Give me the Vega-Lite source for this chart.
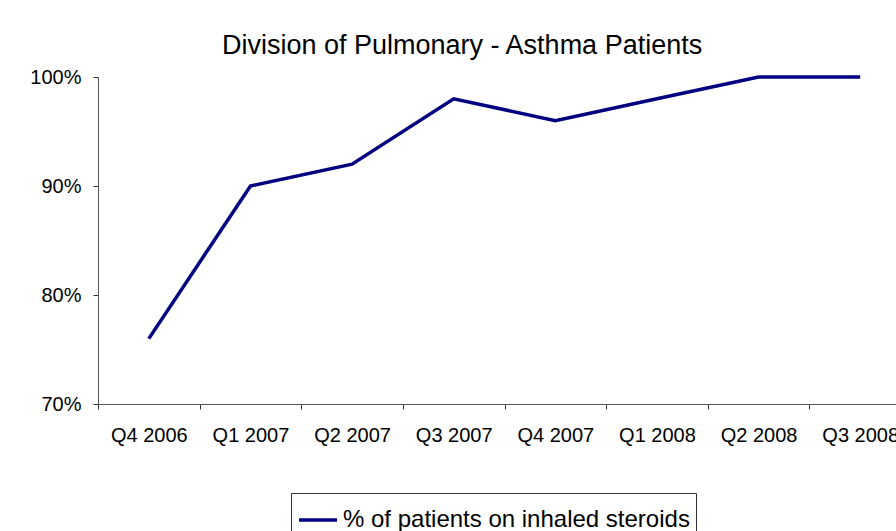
{
  "$schema": "https://vega.github.io/schema/vega-lite/v6.json",
  "width": 798,
  "height": 327,
  "autosize": {"type": "none"},
  "padding": {"left": 98, "top": 77, "right": 0, "bottom": 127},
  "background": "white",
  "title": {
    "text": "Division of Pulmonary - Asthma Patients",
    "font": "Liberation Sans",
    "fontSize": 27,
    "fontWeight": "normal",
    "color": "black",
    "anchor": "start",
    "frame": "group",
    "baseline": "alphabetic",
    "dx": 124,
    "dy": 26,
    "offset": 12
  },
  "data": {
    "values": [
      {"quarter": "Q4 2006", "pct": 0.76, "series": "% of patients on inhaled steroids"},
      {"quarter": "Q1 2007", "pct": 0.90, "series": "% of patients on inhaled steroids"},
      {"quarter": "Q2 2007", "pct": 0.92, "series": "% of patients on inhaled steroids"},
      {"quarter": "Q3 2007", "pct": 0.98, "series": "% of patients on inhaled steroids"},
      {"quarter": "Q4 2007", "pct": 0.96, "series": "% of patients on inhaled steroids"},
      {"quarter": "Q1 2008", "pct": 0.98, "series": "% of patients on inhaled steroids"},
      {"quarter": "Q2 2008", "pct": 1.00, "series": "% of patients on inhaled steroids"},
      {"quarter": "Q3 2008", "pct": 1.00, "series": "% of patients on inhaled steroids"}
    ]
  },
  "mark": {"type": "line", "strokeWidth": 3.5},
  "encoding": {
    "x": {
      "field": "quarter",
      "type": "ordinal",
      "sort": null,
      "scale": {"type": "band", "paddingInner": 0, "paddingOuter": 0, "range": [0, 813]},
      "axis": {
        "title": null,
        "labelAngle": 0,
        "tickBand": "extent",
        "labelFont": "Liberation Sans",
        "labelFontSize": 20,
        "labelColor": "black",
        "labelPadding": 16,
        "labelOverlap": false,
        "labelBound": false,
        "tickSize": 5,
        "tickColor": "#333333",
        "domainColor": "#555555",
        "grid": false
      }
    },
    "y": {
      "field": "pct",
      "type": "quantitative",
      "scale": {"domain": [0.7, 1.0], "nice": false, "zero": false},
      "axis": {
        "title": null,
        "format": ".0%",
        "values": [0.7, 0.8, 0.9, 1.0],
        "labelFont": "Liberation Sans",
        "labelFontSize": 20,
        "labelColor": "black",
        "labelPadding": 12,
        "tickSize": 5,
        "tickColor": "#333333",
        "domainColor": "#555555",
        "grid": false
      }
    },
    "color": {
      "field": "series",
      "type": "nominal",
      "scale": {"range": ["#000080"]},
      "legend": {
        "title": null,
        "orient": "none",
        "legendX": 193,
        "legendY": 416,
        "symbolType": "stroke",
        "symbolSize": 1444,
        "symbolStrokeWidth": 3.5,
        "labelFont": "Liberation Sans",
        "labelFontSize": 24,
        "labelColor": "black",
        "labelOffset": 4,
        "labelLimit": 0,
        "strokeColor": "#333333",
        "padding": 6,
        "fillColor": "white"
      }
    }
  },
  "config": {"view": {"stroke": null}}
}
